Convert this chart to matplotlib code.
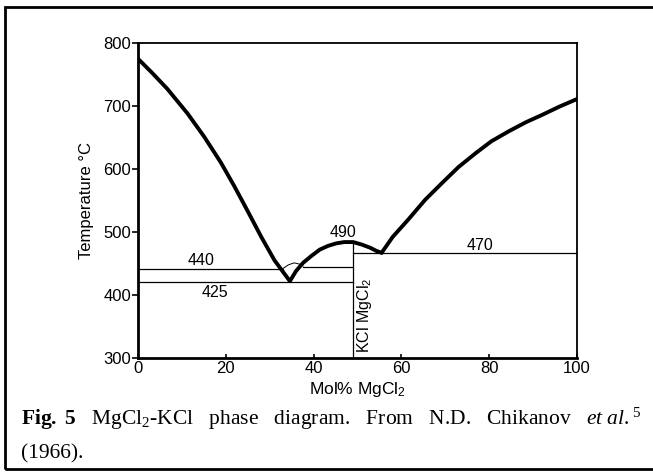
import matplotlib
matplotlib.use("Agg")
import matplotlib.pyplot as plt
from matplotlib.patches import Rectangle

plt.rcParams['font.family'] = ['Liberation Sans', 'DejaVu Sans']
plt.rcParams['mathtext.fontset'] = 'custom'
plt.rcParams['mathtext.rm'] = 'Liberation Serif'
plt.rcParams['mathtext.it'] = 'Liberation Serif:italic'
plt.rcParams['mathtext.bf'] = 'Liberation Serif:bold'
plt.rcParams['mathtext.sf'] = 'Liberation Sans'

# liquidus (mol% MgCl2, deg C)
left_x = [0, 3.3, 6.7, 11.3, 15.1, 18.9, 22.0, 25.0, 28.1, 31.1, 34.6]
left_t = [775, 752, 727, 688, 651, 610, 572, 533, 492, 455, 422]
mid_x = [34.6, 36.0, 37.6, 39.5, 41.4, 43.3, 45.2, 47.0, 49.0, 51.0, 52.9, 54.3, 55.5]
mid_t = [422, 438, 451, 462, 472, 478, 482, 484, 484, 480, 475, 470, 467]
right_x = [55.5, 58.0, 61.6, 65.4, 69.3, 73.0, 76.9, 80.5, 84.5, 88.3, 92.1, 96.0, 100]
right_t = [467, 492, 520, 551, 578, 603, 625, 644, 660, 674, 686, 699, 711]

# small lens near the eutectic
lens_x = [33.0, 34.3, 35.6, 36.8, 37.6]
lens_t = [442, 448, 451, 449, 446]

# invariant lines
eut1_t = 442
eut1b_t = 445
eut2_t = 421
peri_t = 466
comp_x = 49.0

xticks = [0, 20, 40, 60, 80, 100]
yticks = [300, 400, 500, 600, 700, 800]

fig = plt.figure(figsize=(6.53, 4.76), dpi=100)
ax = fig.add_axes([0.2113, 0.2479, 0.6723, 0.6618])

curve_kw = dict(color='black', lw=2.8, solid_capstyle='round', solid_joinstyle='round')
ax.plot(left_x, left_t, **curve_kw)
ax.plot(mid_x, mid_t, **curve_kw)
ax.plot(right_x, right_t, **curve_kw)
ax.plot(lens_x, lens_t, color='black', lw=0.7)

ax.plot([0, 33.0], [eut1_t, eut1_t], color='black', lw=0.9)
ax.plot([37.6, comp_x], [eut1b_t, eut1b_t], color='black', lw=0.9)
ax.plot([0, comp_x], [eut2_t, eut2_t], color='black', lw=0.9)
ax.plot([comp_x, 100], [peri_t, peri_t], color='black', lw=0.9)
ax.plot([comp_x, comp_x], [300, 484], color='black', lw=0.9)

ax.text(14.4, 454, "440", fontsize=11.5, ha='center', va='center')
ax.text(17.6, 404, "425", fontsize=11.5, ha='center', va='center')
ax.text(46.7, 499, "490", fontsize=11.5, ha='center', va='center')
ax.text(77.8, 479, "470", fontsize=11.5, ha='center', va='center')
ax.text(51.7, 308, r"KCl MgCl$_\mathsf{2}$", fontsize=11.5, rotation=90,
        ha='center', va='bottom')

ax.set_xlim(0, 100)
ax.set_ylim(300, 800)
ax.set_xticks(xticks)
ax.set_yticks(yticks)
ax.tick_params(axis='x', direction='in', length=3, width=1.2, labelsize=12, pad=2)
ax.tick_params(axis='y', direction='out', length=4, width=1.2, labelsize=12, pad=1)
for side in ['left', 'bottom']:
    ax.spines[side].set_linewidth(2.0)
for side in ['top', 'right']:
    ax.spines[side].set_linewidth(1.3)

ax.set_xlabel(r"Mol% MgCl$_\mathsf{2}$", fontsize=12.5, labelpad=3)
ax.set_ylabel("Temperature °C", fontsize=12, labelpad=7)

# outer frame
fig.patches.append(Rectangle((5 / 653, 1 - 469 / 476), 1.2, (469 - 7) / 476,
                             transform=fig.transFigure, fill=False,
                             edgecolor='black', lw=2.0))

fig.text(21 / 653, 1 - 425 / 476,
         r"$\mathbf{Fig.\ 5}$   MgCl$_2$-KCl   phase   diagram.   From   N.D.   Chikanov   $\mathit{et\ al.}^5$",
         fontsize=15.5, fontfamily='Liberation Serif', ha='left', va='baseline')
fig.text(21 / 653, 1 - 458 / 476, "(1966).", fontsize=15.5,
         fontfamily='Liberation Serif', ha='left', va='baseline')

fig.savefig("out.png", dpi=100)
